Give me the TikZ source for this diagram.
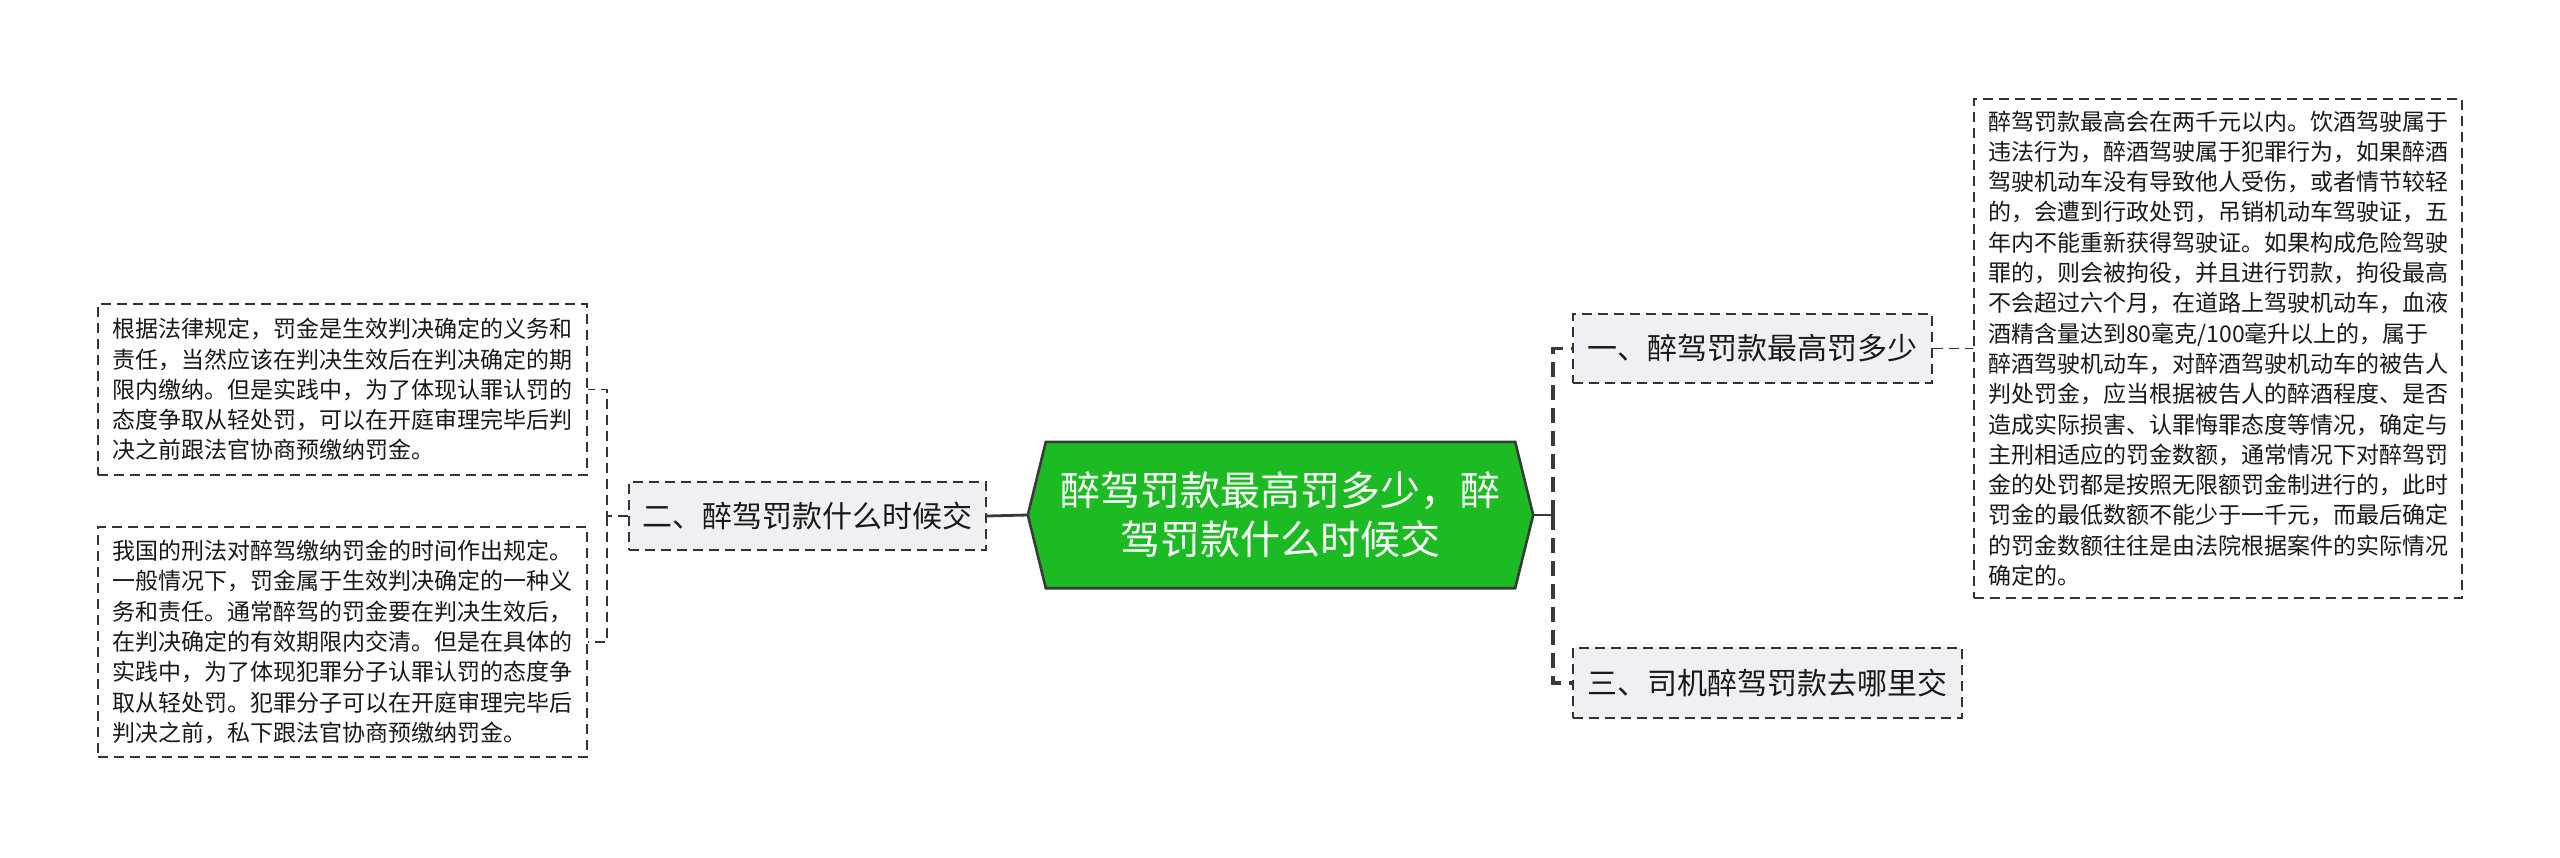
\documentclass[tikz,border=0pt]{standalone}
\usepackage{fontspec}
\newfontfamily\cjk{Noto Sans CJK SC}
\usetikzlibrary{calc,backgrounds}
\definecolor{hexgreen}{HTML}{1DBB23}
\definecolor{linegray}{HTML}{3A3A3A}
\definecolor{boxgray}{HTML}{EEF0F3}
\definecolor{dashgray}{HTML}{333333}
\tikzset{
  leafbox/.style={draw=dashgray, line width=1.7pt, dash pattern=on 10pt off 6pt, fill=white,
    inner sep=0pt, align=left, font=\cjk\fontsize{23}{30.3}\selectfont, text=black!90},
  branchbox/.style={draw=dashgray, line width=1.7pt, dash pattern=on 10pt off 6pt, fill=boxgray,
    inner sep=0pt, minimum height=69pt, font=\cjk\fontsize{30}{36}\selectfont, text=black!90},
  rootbox/.style={inner sep=0pt, minimum width=505pt, minimum height=146pt, align=center,
    text=white, font=\cjk\fontsize{40}{49}\selectfont},
  thinlink/.style={draw=dashgray, line width=1.8pt, dash pattern=on 10pt off 6pt},
  thicklink/.style={draw=linegray, line width=3.2pt, dash pattern=on 15pt off 8pt},
  solidlink/.style={draw=linegray, line width=2.8pt}
}
\begin{document}
\begin{tikzpicture}[x=1pt,y=-1pt]
\useasboundingbox (0,0) rectangle (2560,857);
% root
\node[rootbox] (c) at (1280.5,515) {醉驾罚款最高罚多少，醉\\驾罚款什么时候交};
\begin{pgfonlayer}{background}
\draw[fill=hexgreen, draw=linegray, line width=2.6pt, line join=miter]
  (c.west) -- ($(c.north west)+(18,0)$) -- ($(c.north east)+(-18,0)$) -- (c.east)
  -- ($(c.south east)+(-18,0)$) -- ($(c.south west)+(18,0)$) -- cycle;
\end{pgfonlayer}
% branches
\node[branchbox, minimum width=357pt, minimum height=68pt] (lb) at (807.5,516) {二、醉驾罚款什么时候交};
\node[branchbox, minimum width=359pt] (rb1) at (1752.5,348.5) {一、醉驾罚款最高罚多少};
\node[branchbox, minimum width=389pt, minimum height=70pt] (rb3) at (1767.5,683) {三、司机醉驾罚款去哪里交};
% leaves
\node[leafbox, minimum width=489pt, minimum height=171pt] (ll1) at (342.5,389.5) {根据法律规定，罚金是生效判决确定的义务和\\责任，当然应该在判决生效后在判决确定的期\\限内缴纳。但是实践中，为了体现认罪认罚的\\态度争取从轻处罚，可以在开庭审理完毕后判\\决之前跟法官协商预缴纳罚金。};
\node[leafbox, minimum width=489pt, minimum height=230pt] (ll2) at (342.5,642) {我国的刑法对醉驾缴纳罚金的时间作出规定。\\一般情况下，罚金属于生效判决确定的一种义\\务和责任。通常醉驾的罚金要在判决生效后，\\在判决确定的有效期限内交清。但是在具体的\\实践中，为了体现犯罪分子认罪认罚的态度争\\取从轻处罚。犯罪分子可以在开庭审理完毕后\\判决之前，私下跟法官协商预缴纳罚金。};
\node[leafbox, minimum width=488pt, minimum height=499pt] (rl) at (2218,348.5) {醉驾罚款最高会在两千元以内。饮酒驾驶属于\\违法行为，醉酒驾驶属于犯罪行为，如果醉酒\\驾驶机动车没有导致他人受伤，或者情节较轻\\的，会遭到行政处罚，吊销机动车驾驶证，五\\年内不能重新获得驾驶证。如果构成危险驾驶\\罪的，则会被拘役，并且进行罚款，拘役最高\\不会超过六个月，在道路上驾驶机动车，血液\\酒精含量达到80毫克/100毫升以上的，属于\\醉酒驾驶机动车，对醉酒驾驶机动车的被告人\\判处罚金，应当根据被告人的醉酒程度、是否\\造成实际损害、认罪悔罪态度等情况，确定与\\主刑相适应的罚金数额，通常情况下对醉驾罚\\金的处罚都是按照无限额罚金制进行的，此时\\罚金的最低数额不能少于一千元，而最后确定\\的罚金数额往往是由法院根据案件的实际情况\\确定的。};
% connectors
\coordinate (jl) at (607,516);
\coordinate (jr) at (1553,515);
\draw[solidlink] (c.west) -- (lb.east);
\draw[thinlink] (lb.west) -- (jl) |- (ll1.east);
\draw[thinlink] (jl) |- (ll2.east);
\draw[solidlink] (c.east) -- (jr);
\draw[thicklink] (jr) |- (rb1.west);
\draw[thicklink] (jr) |- (rb3.west);
\draw[thinlink] (rb1.east) -- (rl.west);
\end{tikzpicture}
\end{document}
